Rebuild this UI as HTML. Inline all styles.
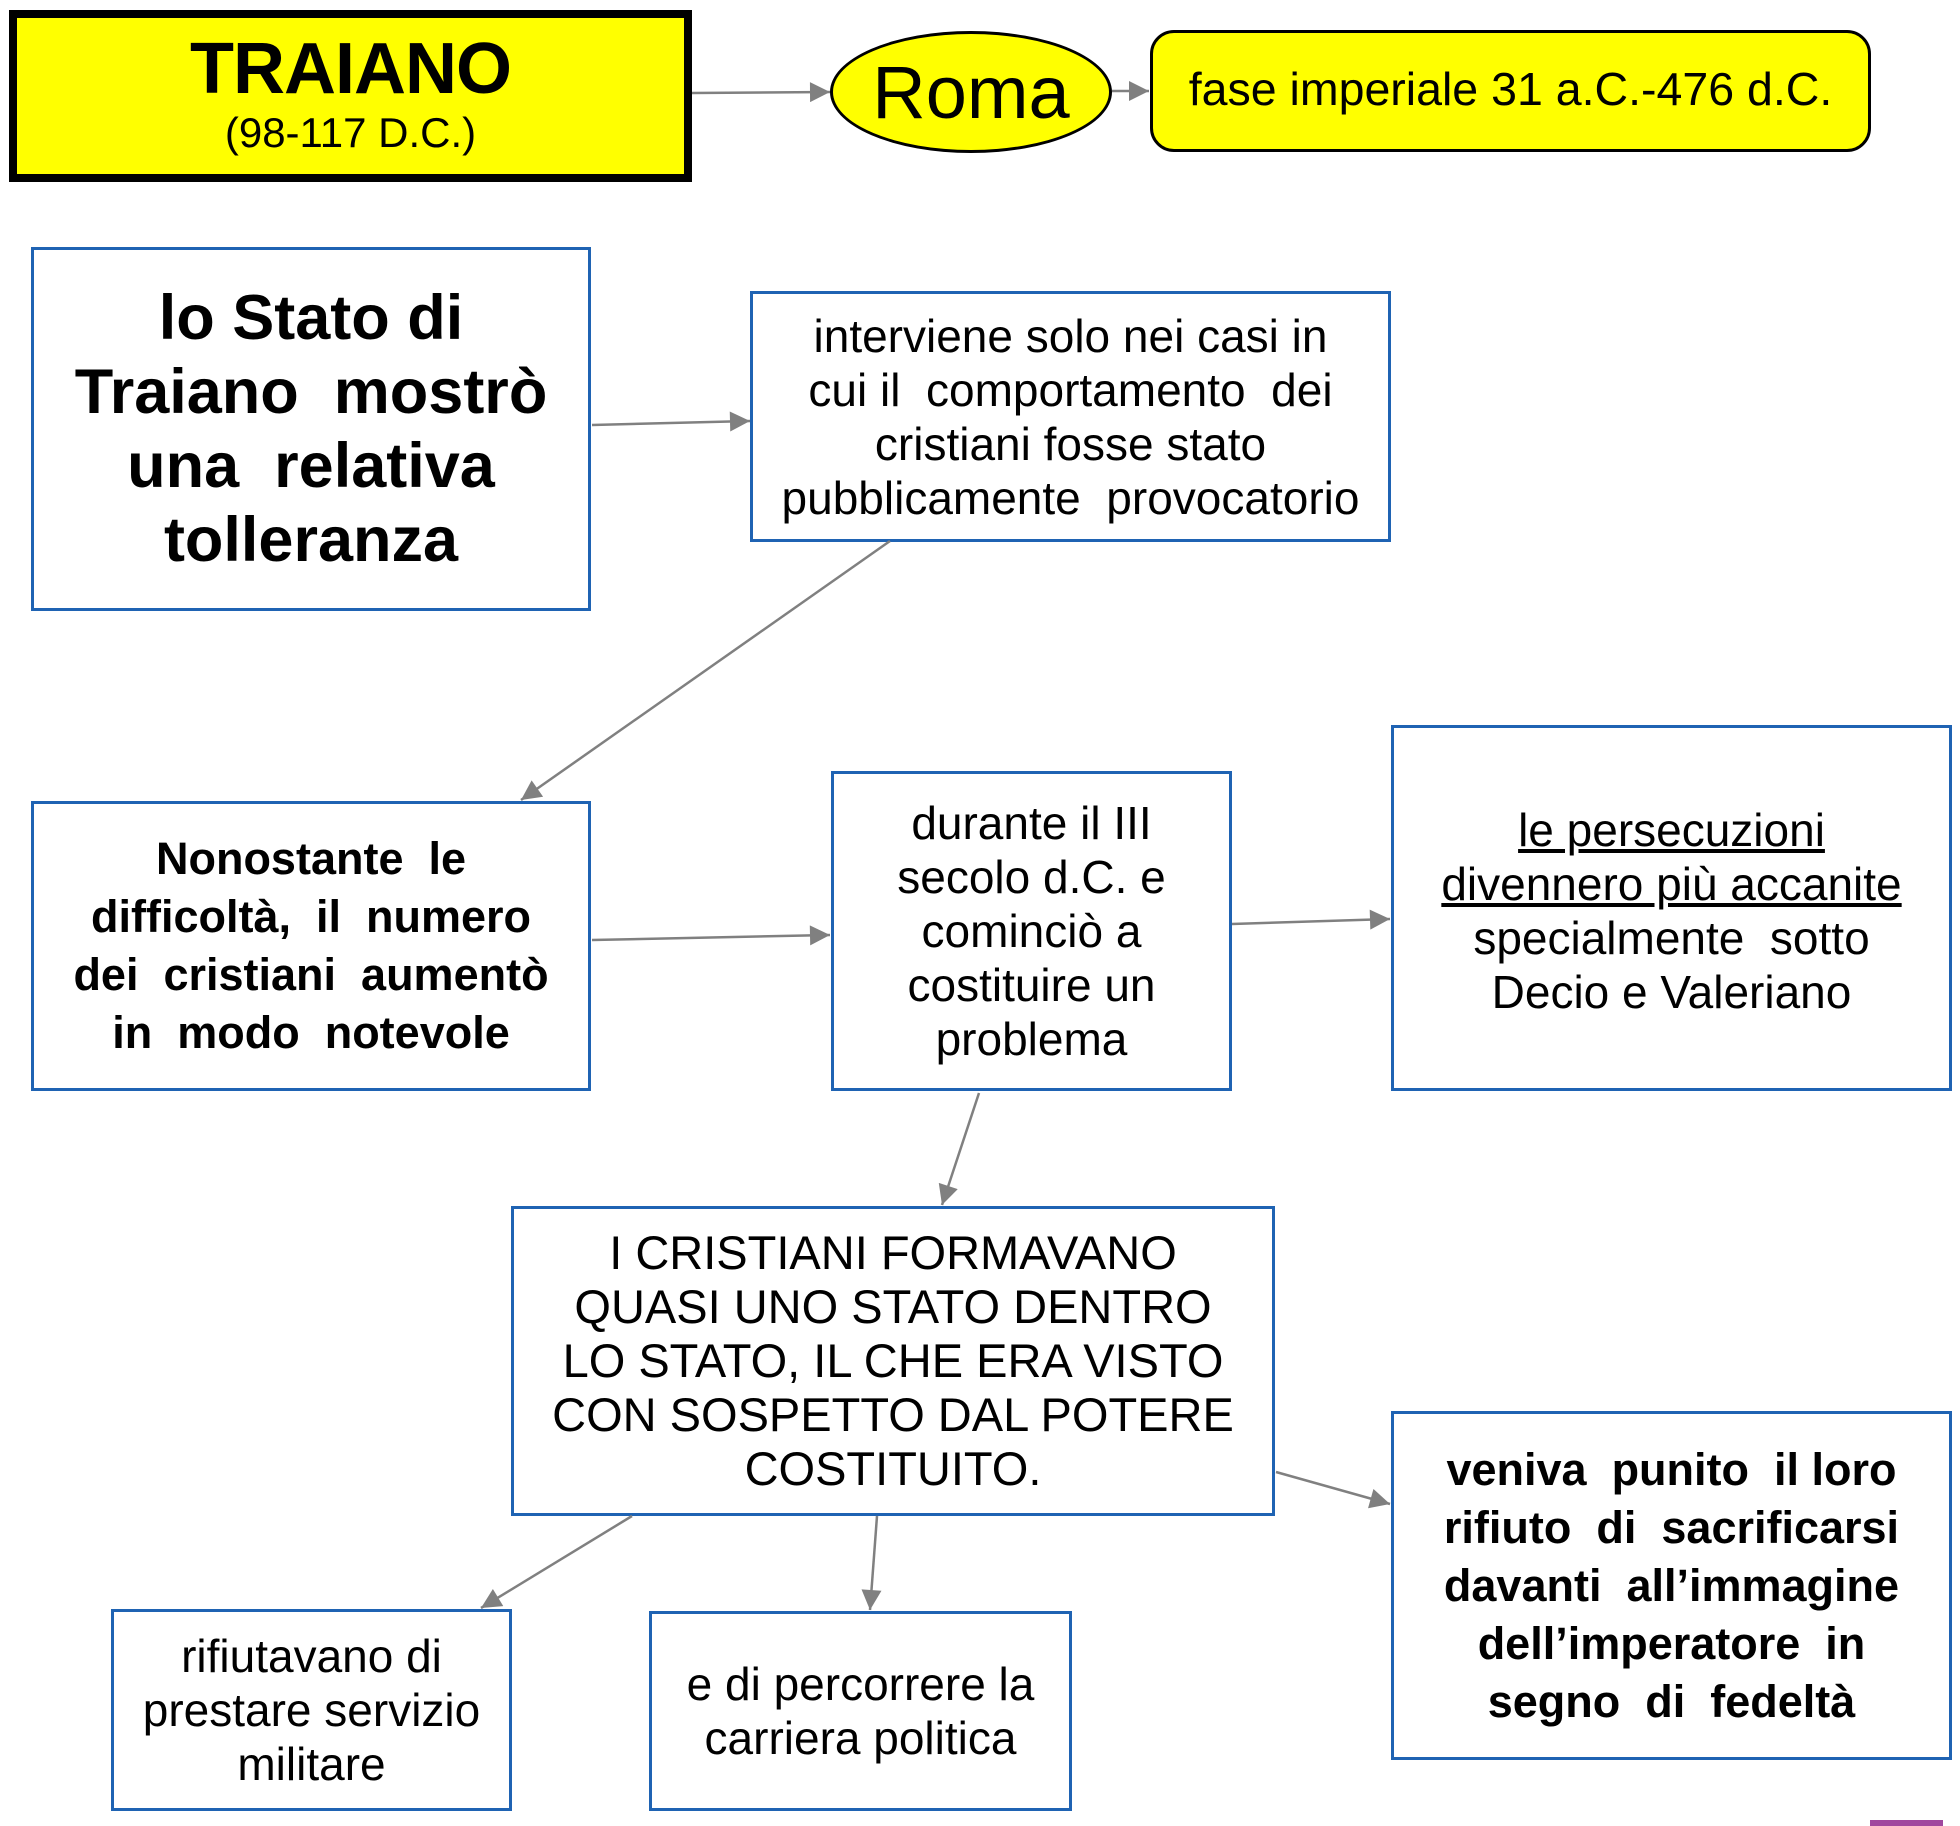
<!DOCTYPE html>
<html><head><meta charset="utf-8"><style>
body{margin:0;width:1960px;height:1826px;background:#fff;position:relative;overflow:hidden;font-family:"Liberation Sans",Arial,sans-serif;color:#000}
.b{position:absolute;box-sizing:border-box;border:3px solid #1f63b3;display:flex;flex-direction:column;justify-content:center;align-items:center;text-align:center;background:#fff;white-space:nowrap}
.t{font-size:46px;line-height:54px}
.bold{font-weight:bold}
svg{position:absolute;left:0;top:0}
</style></head><body>
<div class="b" style="left:9px;top:10px;width:683px;height:172px;border:8px solid #000;background:#ffff00">
<div style="font-size:72px;font-weight:bold;line-height:80px;margin-top:-6px;letter-spacing:-1px">TRAIANO</div>
<div style="font-size:42px;line-height:48px">(98-117 D.C.)</div></div>
<div class="b" style="left:830px;top:31px;width:282px;height:122px;border:3px solid #000;border-radius:50%;background:#ffff00;font-size:74px">Roma</div>
<div class="b" style="left:1150px;top:30px;width:721px;height:122px;border:3px solid #000;border-radius:24px;background:#ffff00;font-size:46.5px;padding-bottom:4px">fase imperiale 31 a.C.-476 d.C.</div>

<div class="b bold" style="left:31px;top:247px;width:560px;height:364px;font-size:63px;line-height:74px">lo Stato di<br>Traiano &nbsp;mostrò<br>una &nbsp;relativa<br>tolleranza</div>
<div class="b t" style="left:750px;top:291px;width:641px;height:251px">interviene solo nei casi in<br>cui il &nbsp;comportamento &nbsp;dei<br>cristiani fosse stato<br>pubblicamente &nbsp;provocatorio</div>
<div class="b bold" style="left:31px;top:801px;width:560px;height:290px;font-size:45px;line-height:58px">Nonostante &nbsp;le<br>difficoltà, &nbsp;il &nbsp;numero<br>dei &nbsp;cristiani &nbsp;aumentò<br>in &nbsp;modo &nbsp;notevole</div>
<div class="b t" style="left:831px;top:771px;width:401px;height:320px">durante il III<br>secolo d.C. e<br>cominciò a<br>costituire un<br>problema</div>
<div class="b t" style="left:1391px;top:725px;width:561px;height:366px;padding-top:6px"><span style="text-decoration:underline">le persecuzioni </span><span style="text-decoration:underline">divennero più accanite</span>specialmente &nbsp;sotto<br>Decio e Valeriano</div>
<div class="b t" style="left:511px;top:1206px;width:764px;height:310px;font-size:47px">I CRISTIANI FORMAVANO<br>QUASI UNO STATO DENTRO<br>LO STATO, IL CHE ERA VISTO<br>CON SOSPETTO DAL POTERE<br>COSTITUITO.</div>
<div class="b t" style="left:111px;top:1609px;width:401px;height:202px">rifiutavano di<br>prestare servizio<br>militare</div>
<div class="b t" style="left:649px;top:1611px;width:423px;height:200px">e di percorrere la<br>carriera politica</div>
<div class="b bold" style="left:1391px;top:1411px;width:561px;height:349px;font-size:45px;line-height:58px">veniva &nbsp;punito &nbsp;il loro<br>rifiuto &nbsp;di &nbsp;sacrificarsi<br>davanti &nbsp;all’immagine<br>dell’imperatore &nbsp;in<br>segno &nbsp;di &nbsp;fedeltà</div>
<div style="position:absolute;left:1870px;top:1820px;width:73px;height:6px;background:#a0479e"></div>

<svg width="1960" height="1826">
<defs>
<marker id="m" viewBox="0 0 10 10" refX="10" refY="5" markerWidth="22" markerHeight="20" orient="auto" markerUnits="userSpaceOnUse"><path d="M0,0 L10,5 L0,10z" fill="#808080"/></marker></defs>
<g stroke="#808080" stroke-width="2.5" fill="none" marker-end="url(#m)">
<line x1="692" y1="93" x2="830" y2="92"/>
<line x1="1112" y1="91" x2="1149" y2="91"/>
<line x1="592" y1="425" x2="750" y2="421"/>
<line x1="890" y1="541" x2="521" y2="800"/>
<line x1="592" y1="940" x2="830" y2="935"/>
<line x1="1232" y1="924" x2="1390" y2="919"/>
<line x1="979" y1="1093" x2="942" y2="1205"/>
<line x1="632" y1="1516" x2="481" y2="1608"/>
<line x1="877" y1="1516" x2="870" y2="1610"/>
<line x1="1276" y1="1472" x2="1390" y2="1504"/>
</g></svg>
</body></html>
